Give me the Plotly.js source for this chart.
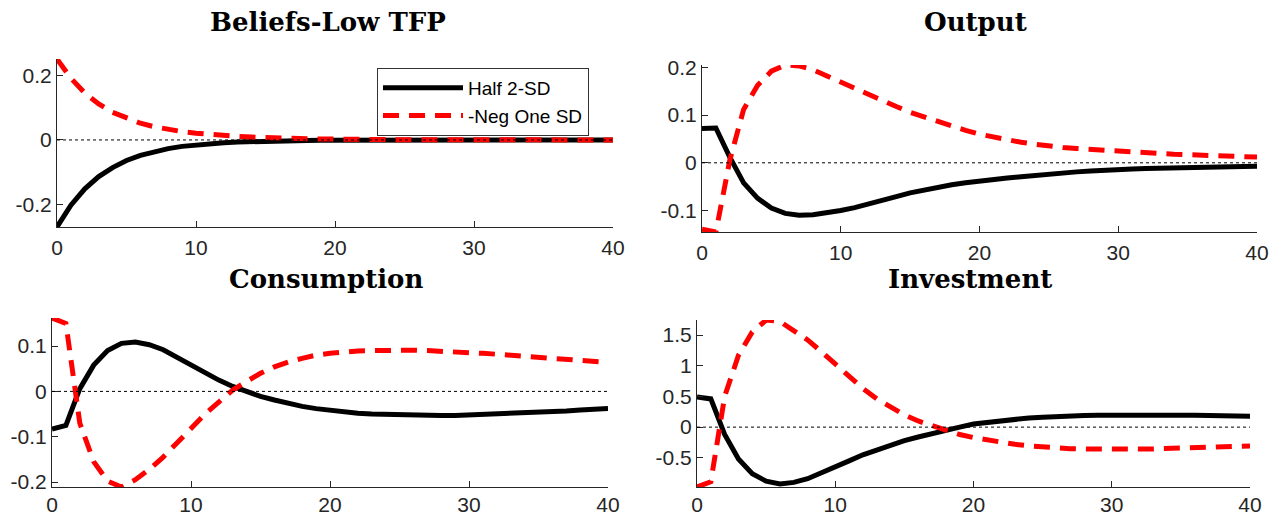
<!DOCTYPE html>
<html><head><meta charset="utf-8">
<script src="https://cdn.plot.ly/plotly-3.0.1.min.js"></script>
<style>html,body{margin:0;padding:0;background:#fff}#chart{width:1284px;height:518px}</style>
</head><body><div id="chart"></div>
<script>
const periods = Array.from({length: 41}, (_, i) => i);
const seriesNames = ['Half 2-SD', '-Neg One SD'];
const panelTitles = ['Beliefs-Low TFP', 'Output', 'Consumption', 'Investment'];

const beliefsHalf = [-0.271,-0.203,-0.152,-0.114,-0.086,-0.064,-0.048,-0.036,-0.027,-0.020,-0.015,-0.011,-0.0085,-0.0064,-0.0048,-0.0036,-0.0027,-0.0020,-0.0015,-0.0011,-0.0008,-0.0006,-0.0005,-0.0004,-0.0003,-0.0002,-0.0002,-0.0001,-0.0001,-0.0001,0,0,0,0,0,0,0,0,0,0,0];
const beliefsNeg = [0.252,0.192,0.146,0.112,0.086,0.067,0.052,0.041,0.033,0.026,0.021,0.017,0.013,0.011,0.009,0.007,0.006,0.0045,0.0035,0.003,0.002,0.002,0.0015,0.001,0.001,0.0008,0.0006,0.0005,0.0004,0.0003,0.0002,0.0002,0.0001,0.0001,0.0001,0,0,0,0,0,0];

const outputHalf = [0.072,0.073,0.012,-0.042,-0.074,-0.095,-0.106,-0.110,-0.109,-0.105,-0.100,-0.094,-0.087,-0.079,-0.071,-0.063,-0.057,-0.051,-0.046,-0.042,-0.038,-0.035,-0.032,-0.029,-0.026,-0.023,-0.021,-0.019,-0.017,-0.015,-0.014,-0.013,-0.012,-0.011,-0.010,-0.0095,-0.009,-0.0085,-0.008,-0.0075,-0.007];
const outputNeg = [-0.139,-0.145,0.005,0.112,0.162,0.192,0.205,0.203,0.195,0.182,0.168,0.156,0.144,0.131,0.118,0.106,0.096,0.086,0.077,0.068,0.060,0.054,0.048,0.043,0.039,0.035,0.032,0.030,0.028,0.026,0.024,0.023,0.021,0.020,0.018,0.017,0.016,0.015,0.014,0.013,0.012];

const consHalf = [-0.083,-0.075,0.006,0.058,0.090,0.106,0.109,0.103,0.092,0.075,0.058,0.041,0.025,0.011,0.000,-0.011,-0.019,-0.027,-0.033,-0.038,-0.042,-0.045,-0.048,-0.050,-0.051,-0.052,-0.053,-0.053,-0.053,-0.053,-0.052,-0.051,-0.050,-0.049,-0.048,-0.046,-0.045,-0.043,-0.041,-0.040,-0.038];
const consNeg = [0.162,0.150,-0.070,-0.155,-0.198,-0.211,-0.195,-0.172,-0.145,-0.115,-0.082,-0.050,-0.022,0.003,0.022,0.040,0.054,0.065,0.073,0.080,0.084,0.087,0.089,0.090,0.091,0.091,0.091,0.090,0.089,0.087,0.086,0.084,0.082,0.080,0.078,0.076,0.074,0.072,0.069,0.067,0.064];

const invHalf = [0.49,0.46,-0.12,-0.52,-0.76,-0.88,-0.925,-0.90,-0.84,-0.75,-0.65,-0.55,-0.45,-0.37,-0.29,-0.22,-0.16,-0.10,-0.05,0.00,0.05,0.08,0.11,0.13,0.15,0.16,0.175,0.185,0.19,0.195,0.198,0.20,0.20,0.20,0.197,0.195,0.192,0.189,0.185,0.181,0.178];
const invNeg = [-0.975,-0.89,0.50,1.17,1.55,1.745,1.72,1.58,1.42,1.23,1.03,0.83,0.63,0.46,0.32,0.20,0.10,0.02,-0.06,-0.12,-0.17,-0.21,-0.25,-0.28,-0.305,-0.325,-0.34,-0.35,-0.355,-0.36,-0.36,-0.36,-0.358,-0.355,-0.35,-0.345,-0.338,-0.33,-0.322,-0.315,-0.306];

const yTicks = [[-0.2,0,0.2],[-0.1,0,0.1,0.2],[-0.2,-0.1,0,0.1],[-0.5,0,0.5,1,1.5]];
const yTickText = [['-0.2','0','0.2'],['-0.1','0','0.1','0.2'],['-0.2','-0.1','0','0.1'],['-0.5','0','0.5','1','1.5']];
const xTicks = [0,10,20,30,40];

const panels = [[beliefsHalf, beliefsNeg],[outputHalf, outputNeg],[consHalf, consNeg],[invHalf, invNeg]];

// layout geometry (pixels)
const W = 1284, H = 518;
const boxes = [
  {x0:57, x1:613, y0:59, y1:227, tx:328, ty:22, so:2},
  {x0:702, x1:1257, y0:65, y1:232, tx:975, ty:22, so:2},
  {x0:52, x1:608, y0:318, y1:487, tx:326, ty:279, so:-1},
  {x0:697, x1:1250, y0:320, y1:487, tx:970, ty:279, so:-1}
];

const data = [];
const layout = {
  width: W, height: H,
  margin: {l:0, r:0, t:0, b:0},
  paper_bgcolor: '#fff', plot_bgcolor: '#fff',
  showlegend: true,
  legend: {
    x: 377/W, y: 1-68/H, xanchor: 'left', yanchor: 'top',
    bgcolor: '#fff', bordercolor: '#333', borderwidth: 1,
    font: {family: 'Liberation Sans, Arial, sans-serif', size: 19, color: '#000'},
    itemwidth: 80, tracegroupgap: 0
  },
  annotations: [], shapes: []
};

panels.forEach((p, i) => {
  const sfx = i === 0 ? '' : String(i+1);
  const b = boxes[i];
  const all = p[0].concat(p[1]);
  const ymin = Math.min(...all), ymax = Math.max(...all);
  data.push({x: periods, y: p[0], xaxis: 'x'+sfx, yaxis: 'y'+sfx, type: 'scatter', mode: 'lines',
    name: seriesNames[0], showlegend: i === 0, line: {color: '#000', width: 5}});
  data.push({x: periods, y: p[1], xaxis: 'x'+sfx, yaxis: 'y'+sfx, type: 'scatter', mode: 'lines',
    name: seriesNames[1], showlegend: i === 0, line: {color: '#ff0000', width: 5, dash: '16px,10px'}});
  const axFont = {family: 'Liberation Sans, Arial, sans-serif', size: 21, color: '#262626'};
  layout['xaxis'+sfx] = {
    domain: [b.x0/W, b.x1/W], anchor: 'y'+sfx, range: [0, 40],
    tickvals: xTicks, ticktext: xTicks.map(String), ticks: 'inside', ticklen: 6, tickcolor: '#262626',
    showline: true, linecolor: '#262626', linewidth: 1, showgrid: false, zeroline: false,
    tickfont: axFont, ticklabelstandoff: b.so, fixedrange: true
  };
  layout['yaxis'+sfx] = {
    domain: [1-b.y1/H, 1-b.y0/H], anchor: 'x'+sfx, range: [ymin, ymax],
    tickvals: yTicks[i], ticktext: yTickText[i], ticks: 'inside', ticklen: 6, tickcolor: '#262626',
    showline: true, linecolor: '#262626', linewidth: 1, showgrid: false, zeroline: false,
    tickfont: axFont, fixedrange: true
  };
  layout.annotations.push({text: '<b>' + panelTitles[i] + '</b>', xref: 'paper', yref: 'paper',
    x: b.tx/W, y: 1-b.ty/H, xanchor: 'center', yanchor: 'middle', showarrow: false,
    font: {family: 'DejaVu Serif, serif', size: 26, color: '#000'}});
  layout.shapes.push({type: 'line', xref: 'x'+sfx, yref: 'y'+sfx, x0: 0, x1: 40, y0: 0, y1: 0,
    line: {color: '#000', width: 1, dash: 'dot'}, layer: 'above'});
});

Plotly.newPlot('chart', data, layout, {displayModeBar: false, staticPlot: true});
</script></body></html>
